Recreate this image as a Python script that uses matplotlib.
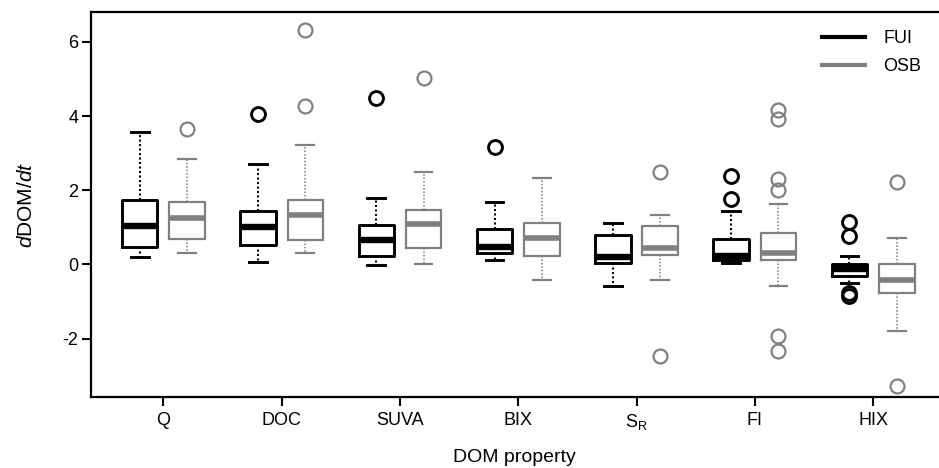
import matplotlib
matplotlib.use("Agg")
import matplotlib.pyplot as plt
from matplotlib.lines import Line2D

plt.rcParams["font.family"] = ["Liberation Sans", "DejaVu Sans"]
plt.rcParams["mathtext.fontset"] = "custom"
plt.rcParams["mathtext.rm"] = "Liberation Sans"
plt.rcParams["mathtext.it"] = "Liberation Sans:italic"

# DOM properties on the x axis
properties = ["Q", "DOC", "SUVA", "BIX", r"S$_\mathrm{R}$", "FI", "HIX"]

# box summaries per site: lower whisker, Q1, median, Q3, upper whisker
fui_whislo = [0.21, 0.06, -0.02, 0.12, -0.59, 0.03, -0.50]
fui_q1 = [0.47, 0.53, 0.24, 0.30, 0.035, 0.12, -0.31]
fui_med = [1.04, 1.01, 0.66, 0.48, 0.19, 0.22, -0.13]
fui_q3 = [1.75, 1.43, 1.06, 0.95, 0.78, 0.68, 0.0]
fui_whishi = [3.58, 2.71, 1.79, 1.68, 1.13, 1.44, 0.22]
fui_fliers = [[], [4.05], [4.48], [3.17], [], [2.39, 1.76], [1.14, 0.77, -0.78, -0.84]]

osb_whislo = [0.30, 0.30, 0.02, -0.42, -0.41, -0.57, -1.80]
osb_q1 = [0.69, 0.66, 0.45, 0.24, 0.25, 0.13, -0.76]
osb_med = [1.24, 1.33, 1.09, 0.71, 0.45, 0.32, -0.42]
osb_q3 = [1.68, 1.74, 1.47, 1.13, 1.04, 0.85, 0.01]
osb_whishi = [2.84, 3.23, 2.48, 2.33, 1.33, 1.64, 0.72]
osb_fliers = [[3.64], [6.32, 4.27], [5.03], [], [2.50, -2.47],
              [4.15, 3.92, 2.30, 2.01, -1.93, -2.33], [2.22, -3.27]]

GREY = "#808080"


def stats(lo, q1, med, q3, hi, fl):
    return [dict(whislo=a, q1=b, med=c, q3=d, whishi=e, fliers=f)
            for a, b, c, d, e, f in zip(lo, q1, med, q3, hi, fl)]


def draw(ax, st, pos, color, lw, med_lw):
    ax.bxp(st, positions=pos, widths=0.30, showfliers=True,
           boxprops=dict(color=color, lw=lw),
           medianprops=dict(color=color, lw=med_lw, solid_capstyle="butt"),
           whiskerprops=dict(color=color, lw=lw * 0.7, ls=(0, (1, 1.2))),
           capprops=dict(color=color, lw=lw),
           flierprops=dict(marker="o", markerfacecolor="none", markeredgecolor=color,
                           markersize=10, markeredgewidth=lw))


fig = plt.figure(figsize=(9.39, 4.68), dpi=100)
ax = fig.add_axes([0.0966, 0.152, 0.9034, 0.822])

x = list(range(1, len(properties) + 1))
draw(ax, stats(fui_whislo, fui_q1, fui_med, fui_q3, fui_whishi, fui_fliers),
     [p - 0.2 for p in x], "black", 2.1, 4.6)
draw(ax, stats(osb_whislo, osb_q1, osb_med, osb_q3, osb_whishi, osb_fliers),
     [p + 0.2 for p in x], GREY, 1.6, 4.0)

ax.set_xlim(0.386, 7.557)
ax.set_ylim(-3.57, 6.80)
ax.set_xticks(x)
ax.set_xticklabels(properties, fontsize=13)
ax.set_yticks([-2, 0, 2, 4, 6])
ax.set_yticklabels(["-2", "0", "2", "4", "6"], fontsize=13)
ax.tick_params(axis="both", width=1.5, length=6.5)
ax.tick_params(axis="x", pad=4.5)
ax.tick_params(axis="y", pad=2.5)
for s in ("left", "bottom", "top"):
    ax.spines[s].set_linewidth(1.6)
ax.spines["right"].set_visible(False)

ax.set_xlabel("DOM property", fontsize=14, labelpad=12)
ax.set_ylabel(r"$d$DOM/$dt$", fontsize=15)
ax.yaxis.set_label_coords(-0.0645, 0.5)

handles = [Line2D([], [], color="black", lw=3),
           Line2D([], [], color=GREY, lw=3)]
ax.legend(handles, ["FUI", "OSB"], loc="upper left", frameon=False,
          fontsize=13, handlelength=2.4, handletextpad=1.0, labelspacing=0.6,
          borderpad=0, borderaxespad=0,
          bbox_to_anchor=(0.8754, 0.935), bbox_transform=fig.transFigure)

fig.savefig("out.png", dpi=100)
